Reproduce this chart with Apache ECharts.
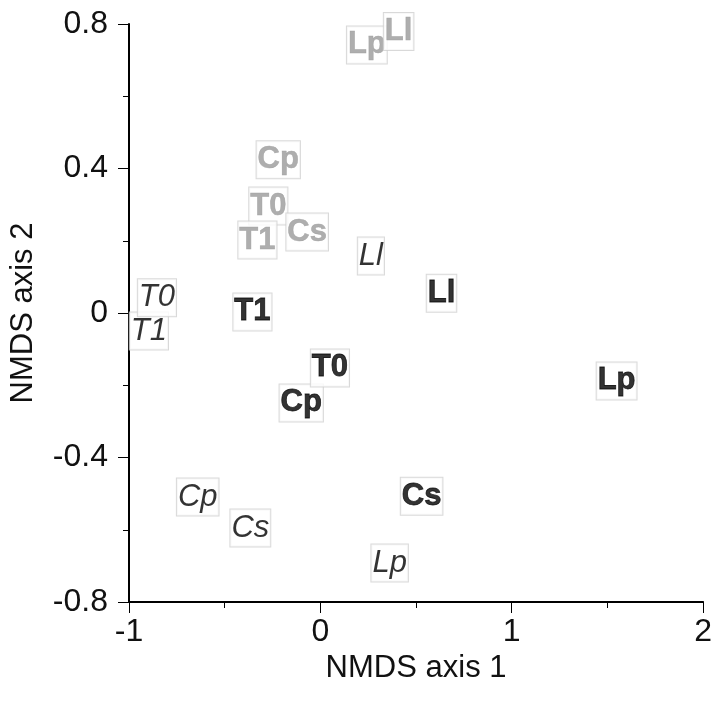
<!DOCTYPE html>
<html>
<head>
<meta charset="utf-8">
<script src="https://cdn.jsdelivr.net/npm/echarts@6/dist/echarts.min.js"></script>
<style>
  html, body { margin: 0; padding: 0; background: #fff; }
  #main { width: 715px; height: 709px; }
</style>
</head>
<body>
<div id="main"></div>
<script>
// NMDS ordination, three groups of labels
var xTicks = [-1, 0, 1, 2];
var yTicks = [-0.8, -0.4, 0, 0.4, 0.8];

// gray bold labels
var grayNames = ['Lp', 'Ll', 'Cp', 'T0', 'T1', 'Cs'];
var grayX = [0.243, 0.409, -0.22, -0.272, -0.329, -0.069];
var grayY = [0.742, 0.779, 0.424, 0.296, 0.202, 0.224];

// black bold labels
var boldNames = ['T1', 'Cp', 'T0', 'Ll', 'Lp', 'Cs'];
var boldX = [-0.355, -0.1, 0.05, 0.633, 1.548, 0.529];
var boldY = [0.003, -0.249, -0.152, 0.055, -0.188, -0.507];

// italic labels
var italNames = ['Ll', 'T1', 'T0', 'Cp', 'Cs', 'Lp'];
var italX = [0.264, -0.896, -0.854, -0.641, -0.366, 0.362];
var italY = [0.158, -0.05, 0.042, -0.509, -0.595, -0.692];

function pts(names, xs, ys) {
    return names.map(function (n, i) { return { name: n, value: [xs[i], ys[i]] }; });
}

function labelSeries(names, xs, ys, color, weight, style, stroke) {
    return {
        type: 'scatter',
        symbolSize: 1,
        itemStyle: { color: 'rgba(0,0,0,0)' },
        data: pts(names, xs, ys),
        label: {
            show: true,
            position: 'inside',
            formatter: '{b}',
            fontFamily: 'Liberation Sans, Arial, sans-serif',
            fontSize: 31,
            fontWeight: weight,
            fontStyle: style,
            color: color,
            textBorderColor: color,
            textBorderWidth: stroke,
            backgroundColor: '#fff',
            borderColor: '#cfcfcf',
            borderWidth: 1,
            padding: [4, 1, 2, 1],
            lineHeight: 31
        },
        emphasis: { disabled: true }
    };
}

var myChart = echarts.init(document.getElementById('main'));
var font = 'Liberation Sans, Arial, sans-serif';

option = {
    animation: false,
    backgroundColor: '#fff',
    grid: { left: 129, right: 9, top: 24, bottom: 107 },
    xAxis: {
        type: 'value',
        min: xTicks[0],
        max: xTicks[xTicks.length - 1],
        interval: xTicks[1] - xTicks[0],
        name: 'NMDS axis 1',
        nameLocation: 'middle',
        nameGap: 48,
        nameTextStyle: { fontFamily: font, fontSize: 31, color: '#111' },
        axisLine: { onZero: false, lineStyle: { color: '#000', width: 2 } },
        axisTick: { inside: false, length: 11, lineStyle: { color: '#000', width: 1 } },
        minorTick: { show: true, splitNumber: 2, length: 6, lineStyle: { color: '#000', width: 1 } },
        splitLine: { show: false },
        axisLabel: { fontFamily: font, fontSize: 32, color: '#111', margin: 14 }
    },
    yAxis: {
        type: 'value',
        min: yTicks[0],
        max: yTicks[yTicks.length - 1],
        interval: yTicks[1] - yTicks[0],
        name: 'NMDS axis 2',
        nameLocation: 'middle',
        nameGap: 90,
        nameTextStyle: { fontFamily: font, fontSize: 31, color: '#111' },
        axisLine: { onZero: false, lineStyle: { color: '#000', width: 2 } },
        axisTick: { inside: false, length: 11, lineStyle: { color: '#000', width: 1 } },
        minorTick: { show: true, splitNumber: 2, length: 6, lineStyle: { color: '#000', width: 1 } },
        splitLine: { show: false },
        axisLabel: {
            fontFamily: font, fontSize: 32, color: '#111', margin: 21,
            formatter: function (v) { return String(Math.round(v * 10) / 10); }
        }
    },
    series: [
        labelSeries(grayNames, grayX, grayY, '#9a9a9a', 'bold', 'normal', 0.5),
        labelSeries(italNames, italX, italY, '#000', 'normal', 'italic', 0),
        labelSeries(boldNames, boldX, boldY, '#000', 'bold', 'normal', 0.8)
    ]
};

myChart.setOption(option);
</script>
</body>
</html>
